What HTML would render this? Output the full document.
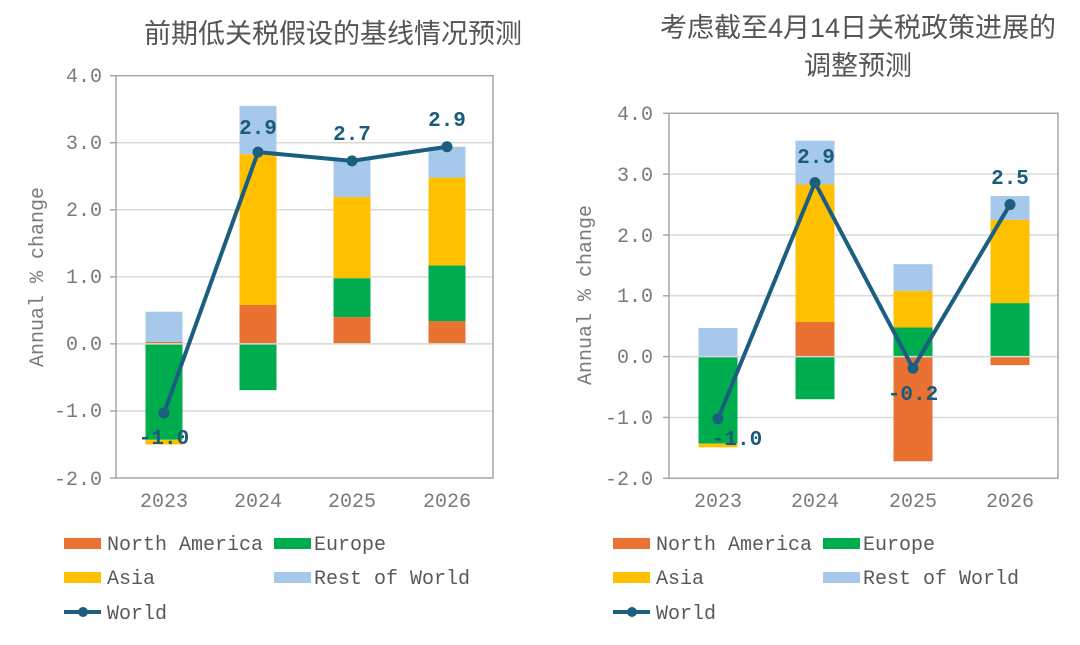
<!DOCTYPE html>
<html><head><meta charset="utf-8"><style>
body{margin:0;background:#fff;width:1080px;height:640px;overflow:hidden}
svg{font-family:"Liberation Mono",monospace}
.t{font-family:"Liberation Sans","Noto Sans CJK SC",sans-serif;font-size:27px;fill:#555}
.tk{font-size:20px;fill:#7a7a7a}
.lg{font-size:20px;fill:#595959}
.dl{font-size:21px;fill:#1b5a7a;font-weight:bold}
</style></head><body>
<svg id="s" width="1080" height="640" xmlns="http://www.w3.org/2000/svg">
<text class="t" x="333" y="43" text-anchor="middle">前期低关税假设的基线情况预测</text>
<text class="t" x="858" y="37" text-anchor="middle">考虑截至4月14日关税政策进展的</text>
<text class="t" x="858" y="75" text-anchor="middle">调整预测</text>
<g id="c1"></g><g id="c2"></g>
<g class="tk" text-anchor="end">
<text x="102" y="82">4.0</text><text x="102" y="149">3.0</text><text x="102" y="216">2.0</text><text x="102" y="283">1.0</text><text x="102" y="350">0.0</text><text x="102" y="417">-1.0</text><text x="102" y="485">-2.0</text>
<text x="653" y="120">4.0</text><text x="653" y="181">3.0</text><text x="653" y="242">2.0</text><text x="653" y="302">1.0</text><text x="653" y="363">0.0</text><text x="653" y="424">-1.0</text><text x="653" y="485">-2.0</text>
</g>
<g class="tk" text-anchor="middle">
<text x="164" y="507">2023</text><text x="258" y="507">2024</text><text x="352" y="507">2025</text><text x="447" y="507">2026</text>
<text x="718" y="507">2023</text><text x="815" y="507">2024</text><text x="913" y="507">2025</text><text x="1010" y="507">2026</text>
</g>
<text class="tk" transform="translate(43,277) rotate(-90)" text-anchor="middle">Annual % change</text>
<text class="tk" transform="translate(591,295) rotate(-90)" text-anchor="middle">Annual % change</text>
<g class="dl" text-anchor="middle">
<text x="258" y="134">2.9</text><text x="352" y="140">2.7</text><text x="447" y="126">2.9</text><text x="164" y="444">-1.0</text>
<text x="816" y="163">2.9</text><text x="1010" y="184">2.5</text><text x="913" y="400">-0.2</text><text x="737" y="445">-1.0</text>
</g>
<g class="lg">
<rect x="64" y="538" width="37" height="11" fill="#e97132"/><text x="107" y="550">North America</text>
<rect x="274" y="538" width="37" height="11" fill="#00ad4e"/><text x="314" y="550">Europe</text>
<rect x="64" y="572" width="37" height="11" fill="#ffc000"/><text x="107" y="584">Asia</text>
<rect x="274" y="572" width="37" height="11" fill="#a6c8ea"/><text x="314" y="584">Rest of World</text>
<line x1="64" y1="612" x2="101" y2="612" stroke="#1b5e80" stroke-width="4"/><circle cx="83" cy="612" r="5" fill="#1b5e80"/><text x="107" y="619">World</text>
<rect x="613" y="538" width="37" height="11" fill="#e97132"/><text x="656" y="550">North America</text>
<rect x="823" y="538" width="37" height="11" fill="#00ad4e"/><text x="863" y="550">Europe</text>
<rect x="613" y="572" width="37" height="11" fill="#ffc000"/><text x="656" y="584">Asia</text>
<rect x="823" y="572" width="37" height="11" fill="#a6c8ea"/><text x="863" y="584">Rest of World</text>
<line x1="613" y1="612" x2="650" y2="612" stroke="#1b5e80" stroke-width="4"/><circle cx="632" cy="612" r="5" fill="#1b5e80"/><text x="656" y="619">World</text>
</g>
</svg>
<script>
var NS="http://www.w3.org/2000/svg";
function el(p,t,a){var e=document.createElementNS(NS,t);for(var k in a)e.setAttribute(k,a[k]);p.appendChild(e);return e;}
var C={na:"#e97132",eu:"#00ad4e",as:"#ffc000",rw:"#a6c8ea"};
function chart(g,L,R,top,bot,cx,bw,bars,world){
  var ppu=(bot-top)/6, z=top+4*ppu; function Y(v){return z-v*ppu;}
  for(var v=-1;v<=3;v++)el(g,"line",{x1:L,x2:R,y1:Y(v),y2:Y(v),stroke:"#d9d9d9","stroke-width":1.5});
  bars.forEach(function(b,i){b.forEach(function(s){var y1=Y(s[1]),y2=Y(s[2]);el(g,"rect",{x:cx[i]-bw/2,y:Math.min(y1,y2),width:bw,height:Math.abs(y2-y1),fill:C[s[0]]});});});
  el(g,"line",{x1:L,x2:R,y1:z,y2:z,stroke:"#d9d9d9","stroke-width":1.5});
  el(g,"rect",{x:L,y:top,width:R-L,height:bot-top,fill:"none",stroke:"#a6a6a6","stroke-width":1.5});
  for(var v=-2;v<=4;v++)el(g,"line",{x1:L-6,x2:L,y1:Y(v),y2:Y(v),stroke:"#a6a6a6","stroke-width":1.5});
  var pts=world.map(function(w,i){return cx[i]+","+Y(w);}).join(" ");
  el(g,"polyline",{points:pts,fill:"none",stroke:"#1b5e80","stroke-width":4,"stroke-linejoin":"round"});
  world.forEach(function(w,i){el(g,"circle",{cx:cx[i],cy:Y(w),r:5.5,fill:"#1b5e80"});});
}
chart(document.getElementById("c1"),116,493,75.7,478,[164,258,352,447],37,
 [[["na",0,0.03],["rw",0.03,0.48],["eu",0,-1.43],["as",-1.43,-1.5]],
  [["na",0,0.58],["as",0.58,2.83],["rw",2.83,3.55],["eu",0,-0.69]],
  [["na",0,0.4],["eu",0.4,0.98],["as",0.98,2.19],["rw",2.19,2.75]],
  [["na",0,0.34],["eu",0.34,1.17],["as",1.17,2.48],["rw",2.48,2.94]]],
 [-1.03,2.86,2.73,2.94]);
chart(document.getElementById("c2"),669,1058,113.3,478.3,[718,815,913,1010],39,
 [[["rw",0,0.47],["eu",0,-1.43],["as",-1.43,-1.49]],
  [["na",0,0.57],["as",0.57,2.83],["rw",2.83,3.55],["eu",0,-0.7]],
  [["eu",0,0.48],["as",0.48,1.08],["rw",1.08,1.52],["na",0,-1.72]],
  [["eu",0,0.88],["as",0.88,2.25],["rw",2.25,2.64],["na",0,-0.14]]],
 [-1.02,2.86,-0.19,2.5]);
var s=document.getElementById("s");s.appendChild(s.querySelector(".dl"));
</script>
</body></html>
